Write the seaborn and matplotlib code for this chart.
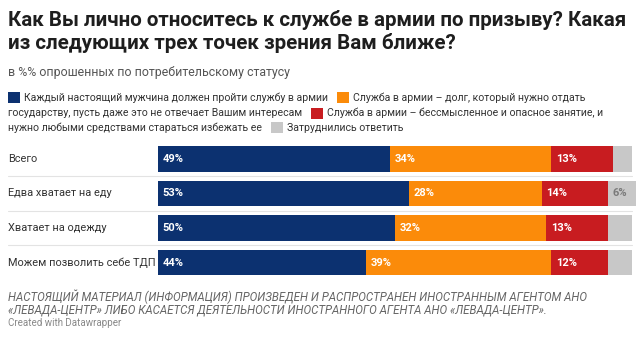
import matplotlib
matplotlib.use("Agg")
import matplotlib.pyplot as plt
import matplotlib.transforms as mtransforms
from matplotlib.patches import Rectangle
import numpy as np
import seaborn as sns

# Survey data: attitude to conscription, % by consumer status
categories = ["Всего", "Едва хватает на еду", "Хватает на одежду", "Можем позволить себе ТДП"]
every_man_must = [49, 53, 50, 44]
duty_to_state = [34, 28, 32, 39]
senseless_avoid = [13, 14, 13, 12]
hard_to_say = [4, 6, 5, 5]

legend_labels = [
    "Каждый настоящий мужчина должен пройти службу в армии",
    "Служба в армии – долг, который нужно отдать государству, пусть даже это не отвечает Вашим интересам",
    "Служба в армии – бессмысленное и опасное занятие, и нужно любыми средствами стараться избежать ее",
    "Затруднились ответить",
]
colors = ["#0c3170", "#fb8b0a", "#c81c20", "#c8c8c8"]
label_colors = ["white", "white", "white", "#7a7a7a"]

title_lines = ["Как Вы лично относитесь к службе в армии по призыву? Какая",
               "из следующих трех точек зрения Вам ближе?"]
subtitle = "в %% опрошенных по потребительскому статусу"
notes = ["НАСТОЯЩИЙ МАТЕРИАЛ (ИНФОРМАЦИЯ) ПРОИЗВЕДЕН И РАСПРОСТРАНЕН ИНОСТРАННЫМ АГЕНТОМ АНО",
         "«ЛЕВАДА-ЦЕНТР» ЛИБО КАСАЕТСЯ ДЕЯТЕЛЬНОСТИ ИНОСТРАННОГО АГЕНТА АНО «ЛЕВАДА-ЦЕНТР»."]
credit = "Created with Datawrapper"

W, H = 640, 342
sns.set_theme(style="white")
plt.rcParams["font.family"] = ["Roboto", "DejaVu Sans"]

fig = plt.figure(figsize=(W / 100, H / 100), dpi=100)
fig.patch.set_facecolor("white")


def fx(x):
    return x / W


def fy(y):
    return 1 - y / H


# plot area in pixels
left, right, top, bottom = 157.5, 631.7, 141.75, 279.75
ax = fig.add_axes([fx(left), fy(bottom), (right - left) / W, (bottom - top) / H])

series = [every_man_must, duty_to_state, senseless_avoid, hard_to_say]
starts, ends = [], []
cum = np.zeros(len(categories))
for s in series:
    starts.append(cum.copy())
    cum = cum + np.array(s, dtype=float)
    ends.append(cum.copy())

# stacked bars: draw cumulative totals from the outermost segment inwards
for end, color in reversed(list(zip(ends, colors))):
    sns.barplot(x=end, y=categories, orient="h", color=color, saturation=1,
                width=0.725, linewidth=0, ax=ax)
for p in ax.patches:
    p.set_clip_on(False)

ax.set_xlim(0, 100)
ax.set_ylim(len(categories) - 0.5, -0.5)
ax.set_axis_off()

# row separators
xmin = (8 - left) / (right - left)
for y in np.arange(len(categories) - 1) + 0.5:
    ax.axhline(y, xmin=xmin, xmax=1, color="#e3e3e3", lw=0.8, clip_on=False, zorder=0)

# value labels inside segments
lab_trans = mtransforms.offset_copy(ax.transData, fig=fig, x=5, y=0, units="dots")
for s, st, lc in zip(series, starts, label_colors):
    for j, v in enumerate(s):
        if v >= 6:
            ax.text(st[j], j, f"{v}%", transform=lab_trans, ha="left", va="center",
                    color=lc, fontsize=8, fontweight="bold")

# category labels
cat_trans = mtransforms.blended_transform_factory(fig.transFigure, ax.transData)
for j, c in enumerate(categories):
    ax.text(fx(8), j, c, transform=cat_trans, ha="left", va="center",
            color="#333333", fontsize=7.9)

# title and subtitle
fig.text(fx(8), fy(26), title_lines[0], fontsize=14.8, fontweight="bold", color="#1e1e1e", va="baseline")
fig.text(fx(8), fy(49), title_lines[1], fontsize=14.8, fontweight="bold", color="#1e1e1e", va="baseline")
fig.text(fx(8), fy(76), subtitle, fontsize=8.9, color="#555555", va="baseline")

# legend, wrapped over three lines
renderer = fig.canvas.get_renderer()
leg_rows = [
    [("sq", 0), ("tx", legend_labels[0]), ("sq", 1), ("tx", "Служба в армии – долг, который нужно отдать")],
    [("tx", "государству, пусть даже это не отвечает Вашим интересам"), ("sq", 2),
     ("tx", "Служба в армии – бессмысленное и опасное занятие, и")],
    [("tx", "нужно любыми средствами стараться избежать ее"), ("sq", 3), ("tx", legend_labels[3])],
]
baselines = [101, 116.5, 131]
for row, base in zip(leg_rows, baselines):
    x = 8.0
    for i, (kind, item) in enumerate(row):
        if kind == "sq":
            if i > 0:
                x += 9
            fig.add_artist(Rectangle((fx(x), fy(base + 2)), 12 / W, 11 / H,
                                     transform=fig.transFigure, color=colors[item], lw=0))
            x += 12 + 4
        else:
            t = fig.text(fx(x), fy(base), item, fontsize=7.6, color="#333333", va="baseline")
            bb = t.get_window_extent(renderer)
            x = bb.x1

# notes
fig.text(fx(8), fy(300.7), notes[0], fontsize=8.3, style="italic", color="#666666", va="baseline")
fig.text(fx(8), fy(313.5), notes[1], fontsize=8.3, style="italic", color="#666666", va="baseline")
fig.text(fx(8), fy(326), credit, fontsize=7.0, color="#888888", va="baseline")

fig.savefig("out.png", dpi=100, facecolor="white")
